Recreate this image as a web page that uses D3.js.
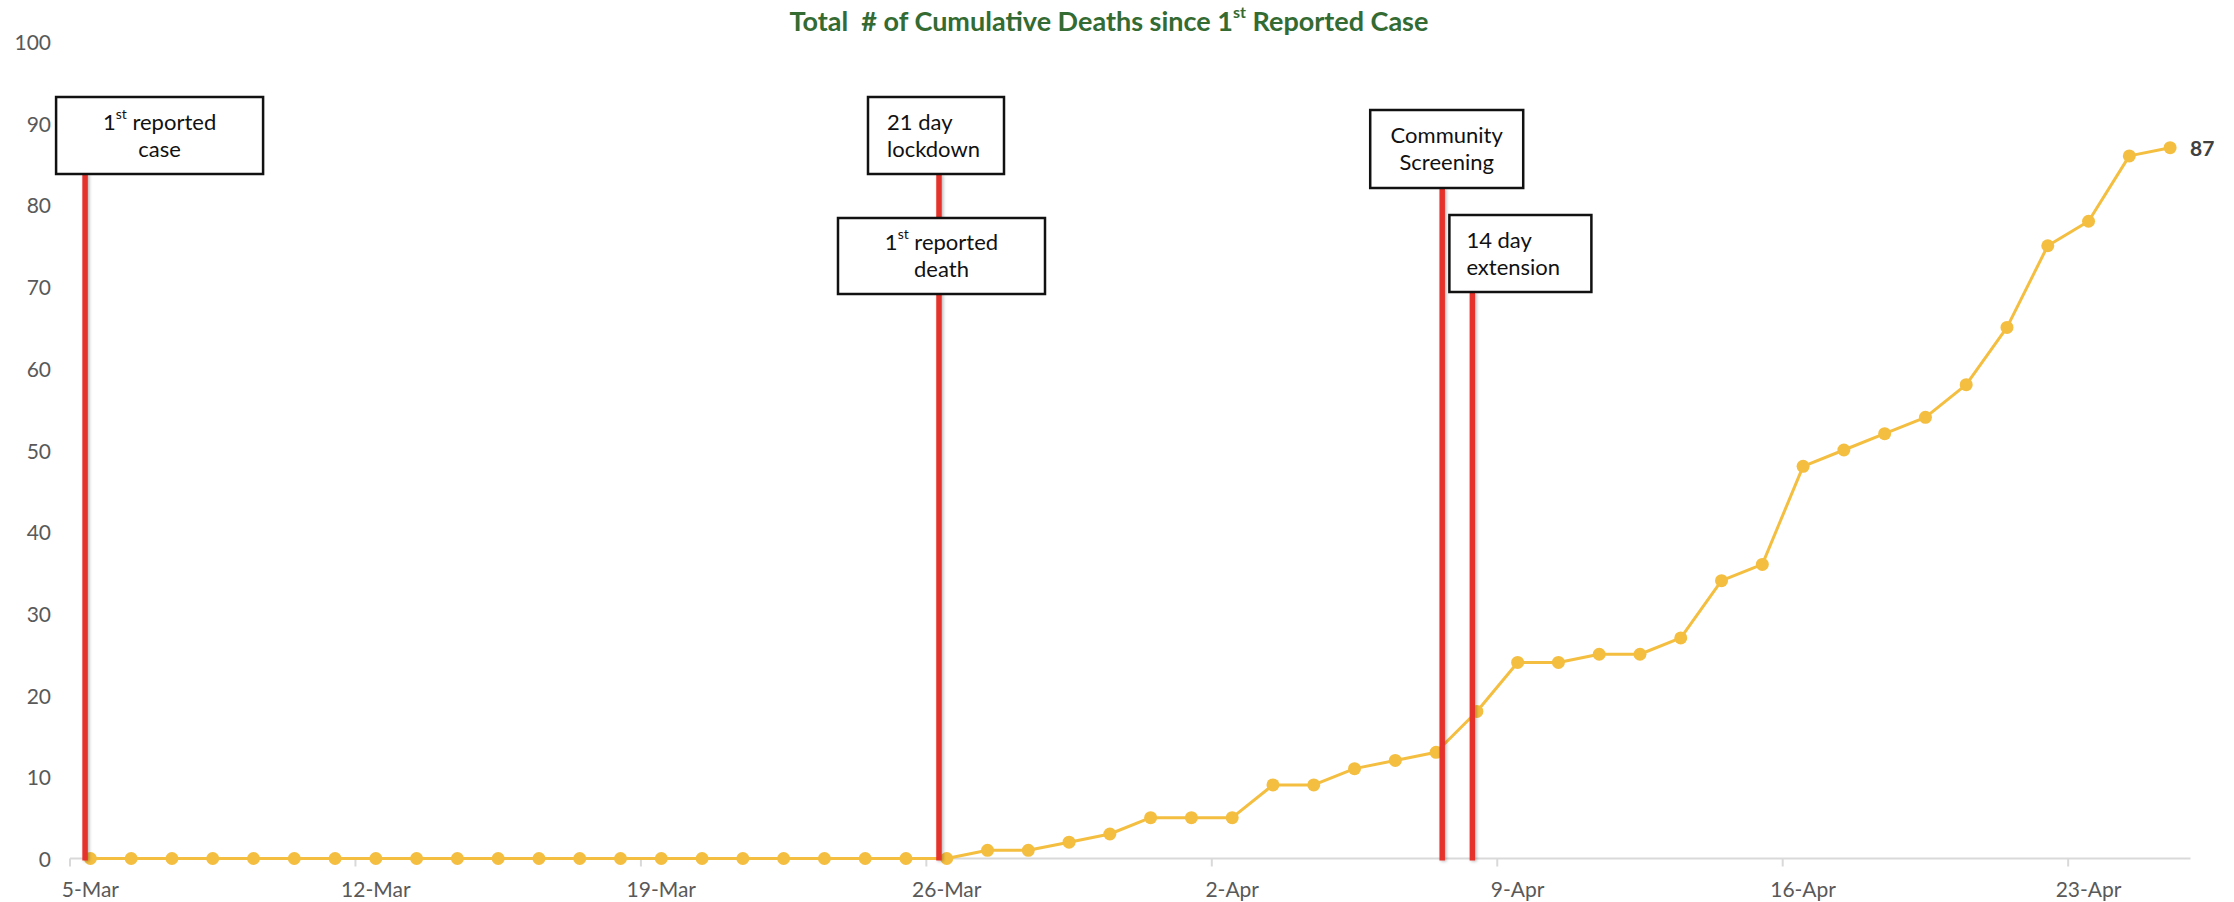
<!DOCTYPE html>
<html>
<head>
<meta charset="utf-8">
<script src="https://cdn.jsdelivr.net/npm/d3@7"></script>
<style>
  html, body { margin: 0; padding: 0; background: #ffffff; }
  svg { display: block; font-family: Lato, "Open Sans", sans-serif; }
</style>
</head>
<body>
<script>
// Daily categories, 5 March to 25 April
const dates = [
  "5-Mar","6-Mar","7-Mar","8-Mar","9-Mar","10-Mar","11-Mar","12-Mar","13-Mar","14-Mar",
  "15-Mar","16-Mar","17-Mar","18-Mar","19-Mar","20-Mar","21-Mar","22-Mar","23-Mar","24-Mar",
  "25-Mar","26-Mar","27-Mar","28-Mar","29-Mar","30-Mar","31-Mar","1-Apr","2-Apr","3-Apr",
  "4-Apr","5-Apr","6-Apr","7-Apr","8-Apr","9-Apr","10-Apr","11-Apr","12-Apr","13-Apr",
  "14-Apr","15-Apr","16-Apr","17-Apr","18-Apr","19-Apr","20-Apr","21-Apr","22-Apr","23-Apr",
  "24-Apr","25-Apr"
];

// Cumulative deaths per day
const deaths = [
  0,0,0,0,0,0,0,0,0,0,
  0,0,0,0,0,0,0,0,0,0,
  0,0,1,1,2,3,5,5,5,9,
  9,11,12,13,18,24,24,25,25,27,
  34,36,48,50,52,54,58,65,75,78,
  86,87
];

const xTickLabels = ["5-Mar","12-Mar","19-Mar","26-Mar","2-Apr","9-Apr","16-Apr","23-Apr"];
const yTickValues = [0,10,20,30,40,50,60,70,80,90,100];

// Key events; {..} marks superscript text
const eventDates  = ["5-Mar", "26-Mar", "26-Mar", "7-Apr", "8-Apr"];
const eventLabels = [
  ["1{st} reported", "case"],
  ["21 day", "lockdown"],
  ["1{st} reported", "death"],
  ["Community", "Screening"],
  ["14 day", "extension"]
];

// Placement of each event marker and its call-out box
const eventLayout = [
  { shift: -0.13, boxDx: -29,  boxW: 207, boxTop: 97,  boxH: 77, align: "middle", pad: 0,  line: true },
  { shift: -0.19, boxDx: -71,  boxW: 136, boxTop: 97,  boxH: 77, align: "start",  pad: 19, line: true },
  { shift: -0.19, boxDx: -101, boxW: 207, boxTop: 218, boxH: 76, align: "middle", pad: 0,  line: false },
  { shift:  0.15, boxDx: -72,  boxW: 153, boxTop: 110, boxH: 78, align: "middle", pad: 0,  line: true },
  { shift: -0.11, boxDx: -23,  boxW: 142, boxTop: 215, boxH: 77, align: "start",  pad: 17, line: true }
];

const W = 2234, H = 902;
const margin = { left: 70, right: 2190.5, top: 41.5, bottom: 858.5 };

const svg = d3.select("body").append("svg")
  .attr("width", W).attr("height", H);

const defs = svg.append("defs");
const shadow = defs.append("filter").attr("id", "softShadow")
  .attr("filterUnits", "userSpaceOnUse")
  .attr("x", 0).attr("y", 0).attr("width", W).attr("height", H);
shadow.append("feDropShadow")
  .attr("dx", 1.5).attr("dy", 1).attr("stdDeviation", 1.6)
  .attr("flood-color", "#000").attr("flood-opacity", 0.28);

const x = d3.scaleLinear().domain([0, dates.length]).range([margin.left, margin.right]);
const y = d3.scaleLinear().domain([0, 100]).range([margin.bottom, margin.top]);
const cx = i => x(i + 0.5);

// Title
const title = svg.append("text")
  .attr("x", 1109).attr("y", 20)
  .attr("text-anchor", "middle").attr("dominant-baseline", "central")
  .attr("fill", "#336B33").attr("font-weight", 700).attr("font-size", 27)
  .style("white-space", "pre");
title.append("tspan").text("Total  # of Cumulative Deaths since 1");
title.append("tspan").attr("font-size", 16).attr("dy", -9).text("st");
title.append("tspan").attr("dy", 9).text(" Reported Case");

// Y axis labels (no axis line)
svg.append("g").selectAll("text").data(yTickValues).join("text")
  .attr("x", 51).attr("y", d => y(d))
  .attr("text-anchor", "end").attr("dominant-baseline", "central")
  .attr("fill", "#595959").attr("font-size", 21)
  .text(d => d);

// X axis baseline and weekly ticks
const xAxisG = svg.append("g");
xAxisG.append("line")
  .attr("x1", x(0)).attr("x2", x(dates.length))
  .attr("y1", y(0)).attr("y2", y(0))
  .attr("stroke", "#D9D9D9").attr("stroke-width", 2);
const tickIdx = xTickLabels.map(l => dates.indexOf(l));
xAxisG.selectAll("line.tick").data(tickIdx).join("line")
  .attr("class", "tick")
  .attr("x1", d => x(d)).attr("x2", d => x(d))
  .attr("y1", y(0)).attr("y2", y(0) + 8)
  .attr("stroke", "#D9D9D9").attr("stroke-width", 2);
xAxisG.selectAll("text").data(tickIdx).join("text")
  .attr("x", d => cx(d)).attr("y", 888)
  .attr("text-anchor", "middle").attr("dominant-baseline", "central")
  .attr("fill", "#595959").attr("font-size", 21)
  .text(d => dates[d]);

// Series line and markers
const series = deaths.map((v, i) => ({ i, v }));
const gold = "#F4BE40";
svg.append("path").datum(series)
  .attr("fill", "none").attr("stroke", gold).attr("stroke-width", 3)
  .attr("stroke-linejoin", "round")
  .attr("d", d3.line().x(d => cx(d.i)).y(d => y(d.v)));
svg.append("g").selectAll("circle").data(series).join("circle")
  .attr("cx", d => cx(d.i)).attr("cy", d => y(d.v)).attr("r", 6.5)
  .attr("fill", gold);

// Value label on the last point
const last = series[series.length - 1];
svg.append("text")
  .attr("x", cx(last.i) + 20).attr("y", y(last.v))
  .attr("dominant-baseline", "central")
  .attr("font-weight", 700).attr("font-size", 21).attr("fill", "#404040")
  .text(last.v);

// Event markers: red verticals with call-out boxes
const events = eventDates.map((d, k) => {
  const L = eventLayout[k];
  return { date: d, lines: eventLabels[k], ...L, lx: cx(dates.indexOf(d)) + L.shift * (x(1) - x(0)) };
});

const evG = svg.append("g");
evG.selectAll("line").data(events.filter(e => e.line)).join("line")
  .attr("x1", e => e.lx).attr("x2", e => e.lx)
  .attr("y1", e => e.boxTop + e.boxH).attr("y2", y(0) + 2)
  .attr("stroke", "#E5322A").attr("stroke-width", 5.5)
  .attr("filter", "url(#softShadow)");

function addLabelLine(textSel, str) {
  const parts = str.split(/(\{[^}]*\})/).filter(s => s.length);
  parts.forEach(p => {
    if (p.startsWith("{")) {
      textSel.append("tspan").attr("font-size", 14).attr("baseline-shift", "55%").text(p.slice(1, -1));
    } else {
      textSel.append("tspan").text(p);
    }
  });
}

events.forEach(e => {
  const g = evG.append("g");
  const bx = e.lx + e.boxDx;
  g.append("rect")
    .attr("x", bx).attr("y", e.boxTop)
    .attr("width", e.boxW).attr("height", e.boxH)
    .attr("fill", "#fff").attr("stroke", "#111").attr("stroke-width", 2.5);
  const midY = e.boxTop + e.boxH / 2;
  const tx = e.align === "middle" ? bx + e.boxW / 2 : bx + e.pad;
  e.lines.forEach((s, j) => {
    const t = g.append("text")
      .attr("x", tx).attr("y", midY + (j === 0 ? -15 : 12))
      .attr("text-anchor", e.align).attr("dominant-baseline", "central")
      .attr("font-size", 22).attr("fill", "#111");
    addLabelLine(t, s);
  });
});
</script>
</body>
</html>
